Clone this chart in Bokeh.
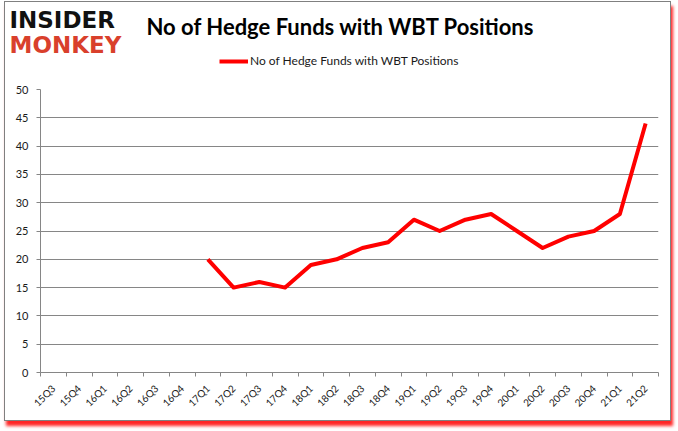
import math
from bokeh.plotting import figure
from bokeh.layouts import column
from bokeh.models import (Range1d, FixedTicker, Label, Legend, LegendItem, ColumnDataSource)
from bokeh.embed import file_html
from bokeh.resources import INLINE

# ---- data ----
quarters = ["15Q3", "15Q4", "16Q1", "16Q2", "16Q3", "16Q4",
            "17Q1", "17Q2", "17Q3", "17Q4", "18Q1", "18Q2", "18Q3", "18Q4",
            "19Q1", "19Q2", "19Q3", "19Q4", "20Q1", "20Q2", "20Q3", "20Q4",
            "21Q1", "21Q2"]
hedge_funds = [None, None, None, None, None, None,
               20, 15, 16, 15, 19, 20, 22, 23,
               27, 25, 27, 28, 25, 22, 24, 25,
               28, 44]
y_ticks = [0, 5, 10, 15, 20, 25, 30, 35, 40, 45, 50]
series_name = "No of Hedge Funds with WBT Positions"
title_text = "No of Hedge Funds with WBT Positions"

GREY = "#868686"
TXT = "#1a1a1a"
RED = "#ff0000"
W = 665
H_HEAD = 80
H_CHART = 338

# ---- header (title, logo, legend) ----
hdr = figure(width=W, height=H_HEAD, output_backend="svg", toolbar_location=None,
             x_range=Range1d(0, W), y_range=Range1d(0, H_HEAD),
             x_axis_type=None, y_axis_type=None, min_border=0,
             background_fill_color="white", border_fill_color="white")
hdr.outline_line_color = None
hdr.xgrid.visible = False
hdr.ygrid.visible = False
legend_src = ColumnDataSource(dict(x=[float("nan")], y=[float("nan")]))
legend_line = hdr.line("x", "y", source=legend_src, line_color=RED, line_width=4)

hdr.add_layout(Label(x=141, y=56, text=title_text, text_font="Lato",
                     text_font_style="bold", text_font_size="22px",
                     text_color="black", text_baseline="alphabetic"))
hdr.add_layout(Label(x=4, y=63, text="INSIDER", text_font="DejaVu Sans",
                     text_font_style="bold", text_font_size="23px",
                     text_color="#111111", text_baseline="alphabetic"))
hdr.add_layout(Label(x=4, y=38, text="MONKEY", text_font="DejaVu Sans",
                     text_font_style="bold", text_font_size="23px",
                     text_color="#d9402c", text_baseline="alphabetic"))
legend = Legend(items=[LegendItem(label=series_name, renderers=[legend_line])],
                location=(214, 14), padding=0, margin=0, spacing=0,
                glyph_width=29, glyph_height=12, label_height=12,
                label_standoff=2, border_line_color=None,
                background_fill_alpha=0, label_text_font="Lato",
                label_text_font_size="12px", label_text_color=TXT)
hdr.add_layout(legend, "center")

# ---- chart ----
xs = [i + 0.5 for i, v in enumerate(hedge_funds) if v is not None]
ys = [v for v in hedge_funds if v is not None]
src = ColumnDataSource(dict(x=xs, y=ys))

p = figure(width=W, height=H_CHART, output_backend="svg", toolbar_location=None,
           x_range=Range1d(0, len(quarters)), y_range=Range1d(0, 50),
           min_border_left=35, min_border_right=12, min_border_top=7,
           min_border_bottom=48, background_fill_color="white",
           border_fill_color="white")
p.outline_line_color = None
p.line("x", "y", source=src, line_color=RED, line_width=4, line_join="round")

xa = p.xaxis[0]
xa.ticker = FixedTicker(ticks=[i + 0.5 for i in range(len(quarters))],
                        minor_ticks=list(range(len(quarters) + 1)))
xa.major_label_overrides = {i + 0.5: q for i, q in enumerate(quarters)}
xa.major_tick_out = 0
xa.major_tick_in = 0
xa.minor_tick_out = 4
xa.minor_tick_in = 0
xa.minor_tick_line_color = GREY
xa.axis_line_color = GREY
xa.major_label_orientation = math.pi / 4
xa.major_label_text_font = "Lato"
xa.major_label_text_font_size = "10px"
xa.major_label_text_color = TXT
xa.major_label_standoff = 10

ya = p.yaxis[0]
ya.ticker = FixedTicker(ticks=y_ticks)
ya.major_tick_out = 4
ya.major_tick_in = 0
ya.major_tick_line_color = GREY
ya.minor_tick_line_color = None
ya.axis_line_color = GREY
ya.major_label_text_font = "Lato"
ya.major_label_text_font_size = "11px"
ya.major_label_text_color = TXT
ya.major_label_standoff = 8

p.xgrid.grid_line_color = None
p.ygrid.grid_line_color = GREY
p.ygrid.grid_line_width = 1

layout = column(column(hdr), p, spacing=0)
layout.styles = {"margin-left": "4px", "margin-top": "1px",
                 "border": "1px solid #808080",
                 "box-shadow": "2px 5px 3px rgba(255,0,0,0.85)"}

open("out.html", "w").write(file_html(layout, INLINE))
